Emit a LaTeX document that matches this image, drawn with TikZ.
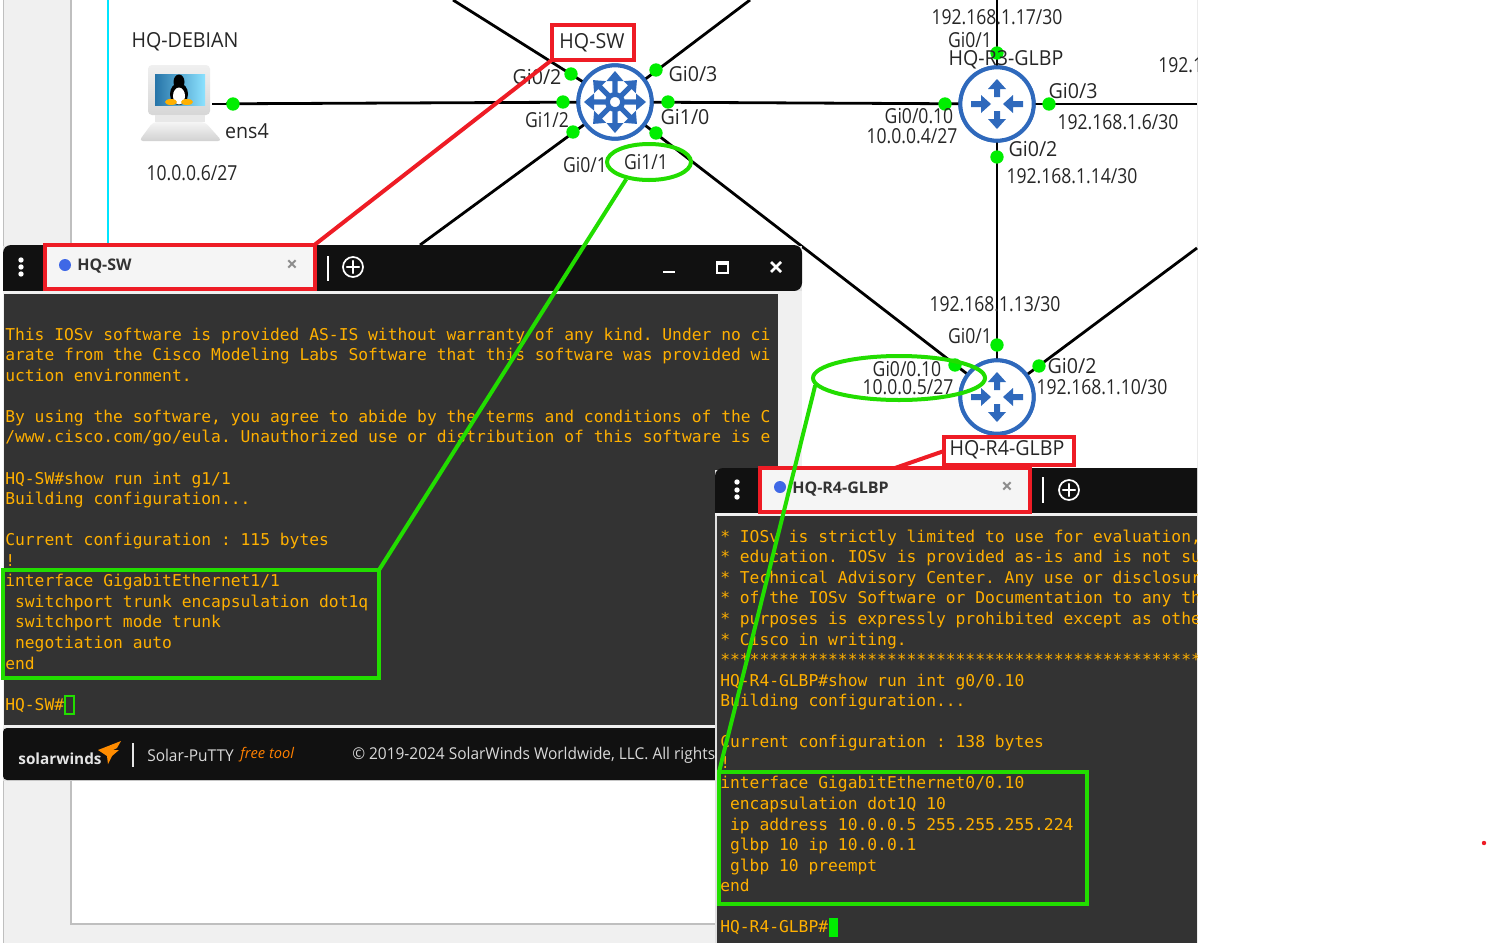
\documentclass[tikz,border=0pt]{standalone}
\usepackage{fontspec}
\usetikzlibrary{shapes.geometric}
\setmainfont{Open Sans}[FakeStretch=0.95]
\newfontfamily\numfont{Open Sans}[FakeStretch=0.85]
\newfontfamily\termfont{DejaVu Sans Mono}
\newfontfamily\uifont{Open Sans}
\definecolor{gport}{HTML}{00EE00}
\definecolor{gmark}{HTML}{22DD00}
\definecolor{rmark}{HTML}{EE1C25}
\definecolor{cisco}{HTML}{2F69BC}
\definecolor{amber}{HTML}{FFB000}
\definecolor{termbg}{HTML}{333333}
\definecolor{barbk}{HTML}{111111}
\definecolor{panel}{HTML}{F0F0F0}
\definecolor{labeltx}{HTML}{262626}
\definecolor{cyanline}{HTML}{00E5FF}
\definecolor{tabdot}{HTML}{3F68E6}
\tikzset{
  link/.style={draw=black,line width=2.1pt},
  port/.style={circle,fill=gport,draw=none,minimum size=10pt,inner sep=0pt},
  devring/.style={circle,draw=cisco,fill=white,line width=3pt,minimum size=55pt,inner sep=0pt},
  lbl/.style={font=\fontsize{15.5}{17}\selectfont,text=labeltx,inner sep=0pt},
  numlbl/.style={font=\numfont\fontsize{15.5}{17}\selectfont,text=labeltx,inner sep=0pt},
  termtext/.style={font=\termfont\fontsize{12.22}{15.42}\selectfont\frenchspacing,text=amber,align=left,anchor=north west,inner sep=0pt},
  redbox/.style={draw=rmark,line width=3pt,inner sep=0pt,outer sep=0pt},
  greenbox/.style={draw=gmark,line width=3pt,inner sep=0pt,outer sep=0pt},
  redline/.style={draw=rmark,line width=3pt},
  greenline/.style={draw=gmark,line width=3pt},
  tabtx/.style={font=\uifont\fontsize{12}{14}\selectfont\bfseries,text=black!80,inner sep=0pt,anchor=west},
  barbtn/.style={draw=white,line width=1.6pt,line cap=round},
  routericon/.pic={
    \fill[cisco] (-3,-7) -- (-3,-15) -- (-9,-15) -- (0,-25) -- (9,-15) -- (3,-15) -- (3,-7) -- cycle;
    \fill[cisco] (-3,7) -- (-3,15) -- (-9,15) -- (0,25) -- (9,15) -- (3,15) -- (3,7) -- cycle;
    \fill[cisco] (-26,-3) -- (-16,-3) -- (-16,-9) -- (-6,0) -- (-16,9) -- (-16,3) -- (-26,3) -- cycle;
    \fill[cisco] (26,-3) -- (16,-3) -- (16,-9) -- (6,0) -- (16,9) -- (16,3) -- (26,3) -- cycle;
  },
  switchicon/.pic={
    \draw[cisco,line width=3.6pt] (0,0) circle (7.5);
    \foreach \r in {0,45,...,315}{
      \begin{scope}[rotate=\r]
        \fill[cisco] (-2.6,-9) -- (-2.6,-21) -- (-8.5,-21) -- (0,-31) -- (8.5,-21) -- (2.6,-21) -- (2.6,-9) -- cycle;
      \end{scope}}
  }
}
\begin{document}
\begin{tikzpicture}[x=0.75pt,y=-0.75pt]
\useasboundingbox (0,0) rectangle (1488,943);
% application background
\fill[white] (0,0) rectangle (1488,943);
\fill[panel] (3,0) rectangle (70,943);
\fill[panel] (3,924) rectangle (1197,943);
\draw[black!25,line width=1.2pt] (71,0) -- (71,924) -- (1197,924);
\draw[black!25,line width=.6pt] (3,0) -- (3,943);
\draw[black!8,line width=.6pt] (1197,0) -- (1197,943);
\draw[cyanline,line width=1.6pt] (108,0) -- (108,250);
% free ends
\coordinate (swTL) at (453,0);
\coordinate (swTR) at (750,0);
\coordinate (swBL) at (420,245);
\coordinate (r3T) at (997,0);
\coordinate (r3R) at (1197,104);
\coordinate (r4R) at (1197,248);
% devices
\node[inner sep=0pt,minimum width=60pt,minimum height=60pt] (pc) at (180,104) {};
\node[devring] (sw) at (615,102) {};
\node[devring] (r3) at (997,104) {};
\node[devring] (r4) at (997,397) {};
% links
\draw[link] (swTL) -- (sw.center);
\draw[link] (swTR) -- (sw.center);
\draw[link] (swBL) -- (sw.center);
\draw[link] (pc.center) -- (sw.center);
\draw[link] (sw.center) -- (r3.center);
\draw[link] (sw.center) -- (r4.center);
\draw[link] (r3T) -- (r3.center);
\draw[link] (r3.center) -- (r3R);
\draw[link] (r3.center) -- (r4.center);
\draw[link] (r4.center) -- (r4R);
% device bodies above the links
\node[devring] (swb) at (615,102) {};
\node[devring] (r3b) at (997,104) {};
\node[devring] (r4b) at (997,397) {};
\pic at (615,102) {switchicon};
\pic at (997,104) {routericon};
\pic at (997,397) {routericon};
% Debian computer
\fill[white] (135,60) rectangle (226,146);
\draw[link] (212,104) -- (233,104);
\shade[top color=black!6,bottom color=black!16,rounded corners=3pt] (148,65) rectangle (210,115);
\fill[black!9] (155,115) rectangle (205,122);
\shade[top color=black!4,bottom color=black!18,rounded corners=3pt] (153,122) -- (205,122) -- (222,141) -- (139,141) -- cycle;
\shade[left color=blue!40!cyan!60!black!85,right color=blue!25!cyan!45!white] (155,74) rectangle (205,105);
\fill[black] (179,82) ellipse (5.5 and 7.5);
\fill[black] (179,94) ellipse (9 and 11);
\fill[white] (179,96) ellipse (6 and 8.5);
\fill[amber] (171,102) ellipse (6 and 3);
\fill[amber] (187,102) ellipse (6 and 3);
% ports
\foreach \n/\p in {pcp/{233,104},s1/{571,74},s2/{656,70},s3/{563,102},s4/{668,102},s5/{573,132},s6/{656,133},a1/{997,53},a2/{945,104},a3/{1049,104},a4/{997,157},b1/{997,345},b2/{955,365},b3/{1039,366}}{
  \node[port] (\n) at (\p) {};
}
% labels
\node[lbl] (l1) at (185,42) {HQ-DEBIAN};
\node[lbl] (l2) at (247,131) {ens4};
\node[numlbl] (l3) at (192,173) {10.0.0.6/27};
\node[lbl] (l5) at (537,77) {Gi0/2};
\node[lbl] (l6) at (693,74) {Gi0/3};
\node[numlbl] (l7) at (547,120) {Gi1/2};
\node[lbl] (l8) at (685,117) {Gi1/0};
\node[numlbl] (l9) at (585,165) {Gi0/1};
\node[numlbl] (l10) at (646,162) {Gi1/1};
\node[numlbl] (l11) at (997,17) {192.168.1.17/30};
\node[numlbl] (l12) at (970,40.5) {Gi0/1};
\node[lbl] (l13) at (1006,59.5) {HQ-R3-GLBP};
\begin{scope}
\clip (1150,40) rectangle (1197,90);
\node[numlbl,anchor=west] (l14) at (1158,65) {192.168.1.5/30};
\end{scope}
\node[lbl] (l15) at (1073,91) {Gi0/3};
\node[numlbl] (l16) at (919,116) {Gi0/0.10};
\node[numlbl] (l17) at (912,136) {10.0.0.4/27};
\node[numlbl] (l18) at (1118,122) {192.168.1.6/30};
\node[lbl] (l19) at (1033,149) {Gi0/2};
\node[numlbl] (l20) at (1072,176) {192.168.1.14/30};
\node[numlbl] (l21) at (995,304) {192.168.1.13/30};
\node[numlbl] (l22) at (970,336) {Gi0/1};
\node[numlbl] (l23) at (907,369) {Gi0/0.10};
\node[numlbl] (l24) at (908,387) {10.0.0.5/27};
\node[lbl] (l25) at (1072,366) {Gi0/2};
\node[numlbl] (l26) at (1102,387) {192.168.1.10/30};
% ---------- terminal 1
\fill[black!12] (3,246) rectangle (802,781);
\fill[barbk] (3,291) {[rounded corners=6pt] -- (3,245) -- (802,245) -- (802,291)} -- cycle;
\fill[panel] (3,291) rectangle (802,728);
\fill[termbg] (4,294) rectangle (778,725);
\fill[barbk,rounded corners=3pt] (3,728) rectangle (802,780);
\foreach \yy in {260,267,274}{\fill[white] (21,\yy) circle (2.7);}
\node[fill=black!4,minimum width=202.5pt,minimum height=33pt,inner sep=0pt] (tab1) at (180,266.5) {};
\fill[tabdot] (65,265) circle (6);
\node[tabtx] (tab1t) at (77,266) {HQ-SW};
\node[font=\uifont\fontsize{15}{16}\selectfont\bfseries,text=black!45,inner sep=0pt] (tab1x) at (292,266) {×};
\draw[white,line width=1.6pt] (328,256) -- (328,281);
\node[circle,draw=white,line width=1.3pt,minimum size=15pt,inner sep=0pt] (plus1) at (353,267) {};
\draw[barbtn] (347,267) -- (359,267) (353,261) -- (353,273);
\draw[white,line width=2pt] (663,272) -- (675,272);
\draw[white,line width=1.5pt] (717,262) rectangle (728,273);
\fill[white] (717,262) rectangle (728,265);
\draw[white,line width=2pt] (771,262) -- (781,272) (781,262) -- (771,272);
\begin{scope}
\clip (4,294) rectangle (778,725);
\node[termtext] (term1) at (5,327.5) {This IOSv software is provided AS-IS without warranty of any kind. Under no ci\\
arate from the Cisco Modeling Labs Software that this software was provided wi\\
uction environment.\\
\mbox{}\\
By using the software, you agree to abide by the terms and conditions of the C\\
/www.cisco.com/go/eula. Unauthorized use or distribution of this software is e\\
\mbox{}\\
HQ-SW\#show run int g1/1\\
Building configuration...\\
\mbox{}\\
Current configuration : 115 bytes\\
!\\
interface GigabitEthernet1/1\\
~switchport trunk encapsulation dot1q\\
~switchport mode trunk\\
~negotiation auto\\
end\\
\mbox{}\\
HQ-SW\#};
\end{scope}
\draw[gmark,line width=1pt] (65,696) rectangle (74,714);
% footer
\node[font=\uifont\fontsize{11.5}{14}\selectfont\bfseries,text=black!10,inner sep=0pt] (brand) at (60,759) {solarwinds};
\fill[orange!90!yellow] (98,750) -- (121,741) -- (117,748) -- (113,750) -- (119,750) -- (112,756) -- (108,764) -- (107,756) -- cycle;
\draw[black!10,line width=.8pt] (133,743) -- (133,767);
\node[font=\fontsize{12.2}{14}\selectfont,text=black!15,inner sep=0pt,anchor=west] (putty) at (147,755) {Solar-PuTTY};
\node[font=\uifont\fontsize{11}{14}\selectfont\itshape,text=orange,inner sep=0pt,anchor=west] (free) at (240,755) {free tool};
\begin{scope}
\clip (340,735) rectangle (714.5,775);
\node[font=\fontsize{12.2}{14}\selectfont,text=black!15,inner sep=0pt,anchor=west] (copy) at (352,755) {© 2019-2024 SolarWinds Worldwide, LLC. All rights};
\end{scope}
% ---------- terminal 2
\begin{scope}
\clip (715,468) rectangle (1197,943);
\fill[black!12] (714,470) rectangle (1197,943);
\fill[barbk] (715,513) {[rounded corners=6pt] -- (715,468) -- (1205,468)} -- (1205,513) -- cycle;
\fill[panel] (715,513) rectangle (1197,516);
\fill[termbg] (717,516) rectangle (1197,943);
\foreach \yy in {482,490,497}{\fill[white] (737,\yy) circle (2.7);}
\node[fill=black!4,minimum width=202.5pt,minimum height=33pt,inner sep=0pt] (tab2) at (895,490) {};
\fill[tabdot] (780,487) circle (6);
\node[tabtx] (tab2t) at (792,489) {HQ-R4-GLBP};
\node[font=\uifont\fontsize{15}{16}\selectfont\bfseries,text=black!45,inner sep=0pt] (tab2x) at (1007,488) {×};
\draw[white,line width=1.6pt] (1043,477) -- (1043,503);
\node[circle,draw=white,line width=1.3pt,minimum size=15pt,inner sep=0pt] (plus2) at (1069,490) {};
\draw[barbtn] (1063,490) -- (1075,490) (1069,484) -- (1069,496);
\node[termtext] (term2) at (720,529.5) {{*} IOSv is strictly limited to use for evaluation,\\
{*} education. IOSv is provided as-is and is not su\\
{*} Technical Advisory Center. Any use or disclosur\\
{*} of the IOSv Software or Documentation to any th\\
{*} purposes is expressly prohibited except as othe\\
{*} Cisco in writing.\\
{*}************************************************\\
HQ-R4-GLBP\#show run int g0/0.10\\
Building configuration...\\
\mbox{}\\
Current configuration : 138 bytes\\
!\\
interface GigabitEthernet0/0.10\\
~encapsulation dot1Q 10\\
~ip address 10.0.0.5 255.255.255.224\\
~glbp 10 ip 10.0.0.1\\
~glbp 10 preempt\\
end\\
\mbox{}\\
HQ-R4-GLBP\#};
\fill[gport] (829,918) rectangle (838,937);
\end{scope}
% ---------- annotations
\node[redbox,fill=white,minimum width=61.5pt,minimum height=26pt] (hqsw) at (593,42.5) {};
\node[lbl] (l4) at (592,43) {HQ-SW};
\node[redbox,fill=white,minimum width=97.5pt,minimum height=20.5pt] (hqr4) at (1009,451) {};
\node[lbl] (l27) at (1007,450) {HQ-R4-GLBP};
\node[redbox,minimum width=202.5pt,minimum height=33pt] (tab1box) at (180,266.5) {};
\node[redbox,minimum width=202.5pt,minimum height=33pt] (tab2box) at (895,490) {};
\draw[redline] (hqsw.south west) -- (tab1box.north east);
\draw[redline] (hqr4.west) -- (tab2box.north);
\node[greenbox,minimum width=282pt,minimum height=81pt] (cfg1) at (191,624) {};
\node[greenbox,minimum width=276pt,minimum height=99pt] (cfg2) at (903,838) {};
\node[ellipse,draw=gmark,line width=3pt,minimum width=63pt,minimum height=27pt,inner sep=0pt] (ell1) at (649,162) {};
\node[ellipse,draw=gmark,line width=3pt,minimum width=129pt,minimum height=33pt,inner sep=0pt] (ell2) at (899,378) {};
\draw[greenline] (ell1.217) -- (cfg1.north east);
\draw[greenline] (ell2.185) -- (cfg2.north west);
\fill[rmark] (1484,843) circle (2.2);
\end{tikzpicture}
\end{document}
